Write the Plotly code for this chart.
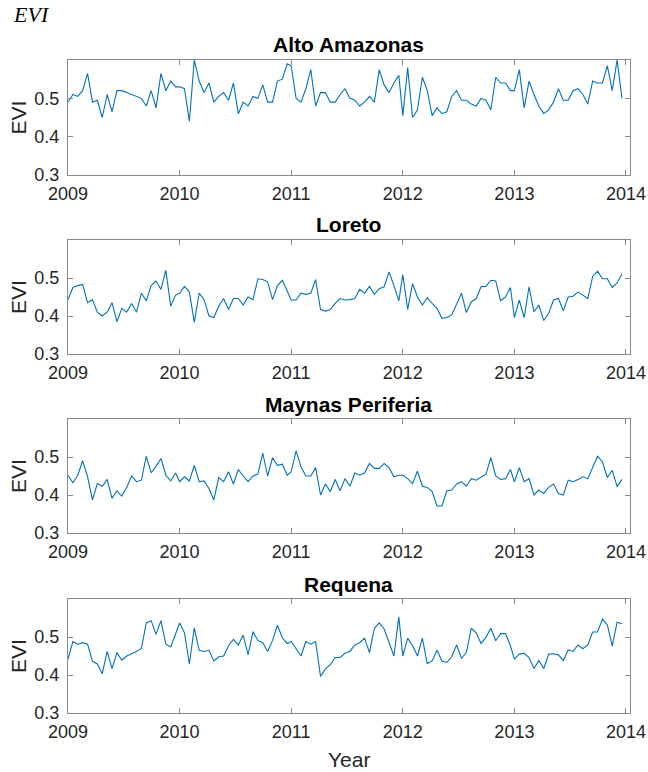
import numpy as np
import plotly.graph_objects as go

# 16-day composite dates (day of year 1, 17, ..., 353) for 2009-2013, as decimal years
years = [2009, 2010, 2011, 2012, 2013]
doys = list(range(1, 354, 16))
t = [y + (d - 1) / 365.0 for y in years for d in doys]

regions = ["Alto Amazonas", "Loreto", "Maynas Periferia", "Requena"]

evi_alto_amazonas = [
    # 2009
    0.49, 0.51, 0.505, 0.52, 0.565, 0.49, 0.495, 0.45, 0.51, 0.465, 0.52, 0.52,
    0.515, 0.51, 0.505, 0.50, 0.48, 0.52, 0.475, 0.565, 0.52, 0.545, 0.53,
    # 2010
    0.53, 0.525, 0.44, 0.60, 0.545, 0.515, 0.54, 0.49, 0.505, 0.515, 0.495, 0.54,
    0.46, 0.49, 0.48, 0.505, 0.50, 0.535, 0.49, 0.49, 0.545, 0.55, 0.59,
    # 2011
    0.585, 0.50, 0.49, 0.525, 0.575, 0.48, 0.515, 0.515, 0.49, 0.49, 0.51, 0.525,
    0.50, 0.495, 0.48, 0.49, 0.505, 0.49, 0.575, 0.535, 0.515, 0.54, 0.56,
    # 2012
    0.455, 0.58, 0.45, 0.47, 0.555, 0.52, 0.455, 0.475, 0.46, 0.465, 0.505, 0.52,
    0.495, 0.495, 0.485, 0.48, 0.50, 0.495, 0.47, 0.555, 0.54, 0.54, 0.52,
    # 2013
    0.52, 0.575, 0.475, 0.545, 0.51, 0.48, 0.46, 0.47, 0.49, 0.525, 0.495, 0.495,
    0.52, 0.525, 0.51, 0.485, 0.545, 0.54, 0.54, 0.585, 0.52, 0.60, 0.50,
]

evi_loreto = [
    # 2009
    0.443, 0.475, 0.48, 0.483, 0.435, 0.443, 0.41, 0.40, 0.41, 0.435, 0.385, 0.42,
    0.41, 0.433, 0.41, 0.46, 0.44, 0.48, 0.492, 0.47, 0.52, 0.426, 0.455,
    # 2010
    0.46, 0.478, 0.463, 0.383, 0.46, 0.443, 0.40, 0.396, 0.426, 0.446, 0.417, 0.446,
    0.446, 0.429, 0.45, 0.443, 0.498, 0.496, 0.49, 0.443, 0.48, 0.494, 0.463,
    # 2011
    0.442, 0.442, 0.46, 0.457, 0.46, 0.496, 0.417, 0.413, 0.417, 0.433, 0.446, 0.442,
    0.443, 0.446, 0.47, 0.46, 0.478, 0.457, 0.472, 0.477, 0.516, 0.48, 0.44,
    # 2012
    0.509, 0.417, 0.485, 0.45, 0.429, 0.448, 0.433, 0.42, 0.394, 0.396, 0.403, 0.433,
    0.46, 0.409, 0.437, 0.446, 0.477, 0.478, 0.494, 0.492, 0.44, 0.45, 0.475,
    # 2013
    0.396, 0.442, 0.396, 0.477, 0.411, 0.429, 0.388, 0.407, 0.442, 0.446, 0.414, 0.45,
    0.452, 0.463, 0.455, 0.446, 0.504, 0.518, 0.498, 0.498, 0.475, 0.487, 0.511,
]

evi_maynas_periferia = [
    # 2009
    0.452, 0.432, 0.452, 0.49, 0.448, 0.387, 0.43, 0.423, 0.441, 0.391, 0.411, 0.397,
    0.42, 0.45, 0.435, 0.439, 0.502, 0.458, 0.476, 0.496, 0.452, 0.437, 0.458,
    # 2010
    0.435, 0.448, 0.437, 0.478, 0.435, 0.437, 0.417, 0.387, 0.446, 0.435, 0.461, 0.429,
    0.467, 0.45, 0.435, 0.45, 0.455, 0.51, 0.45, 0.498, 0.478, 0.481, 0.452,
    # 2011
    0.461, 0.516, 0.474, 0.45, 0.45, 0.472, 0.40, 0.429, 0.409, 0.441, 0.411, 0.443,
    0.423, 0.458, 0.452, 0.458, 0.483, 0.47, 0.47, 0.483, 0.472, 0.448, 0.452,
    # 2012
    0.452, 0.443, 0.43, 0.463, 0.423, 0.42, 0.409, 0.371, 0.371, 0.411, 0.413, 0.429,
    0.435, 0.423, 0.443, 0.439, 0.448, 0.455, 0.498, 0.45, 0.441, 0.443, 0.467,
    # 2013
    0.435, 0.472, 0.435, 0.443, 0.40, 0.413, 0.404, 0.42, 0.429, 0.404, 0.40, 0.439,
    0.435, 0.441, 0.448, 0.443, 0.474, 0.502, 0.487, 0.446, 0.465, 0.422, 0.441,
]

evi_requena = [
    # 2009
    0.442, 0.488, 0.481, 0.485, 0.481, 0.436, 0.429, 0.403, 0.462, 0.417, 0.459, 0.439,
    0.45, 0.455, 0.462, 0.47, 0.537, 0.543, 0.507, 0.543, 0.481, 0.474, 0.511,
    # 2010
    0.537, 0.511, 0.429, 0.524, 0.465, 0.462, 0.465, 0.437, 0.448, 0.45, 0.477, 0.494,
    0.479, 0.505, 0.453, 0.514, 0.491, 0.485, 0.462, 0.491, 0.531, 0.498, 0.483,
    # 2011
    0.488, 0.47, 0.45, 0.488, 0.481, 0.488, 0.396, 0.416, 0.427, 0.446, 0.446, 0.457,
    0.462, 0.479, 0.485, 0.497, 0.459, 0.523, 0.537, 0.521, 0.483, 0.45, 0.553,
    # 2012
    0.45, 0.497, 0.477, 0.45, 0.497, 0.43, 0.437, 0.465, 0.437, 0.433, 0.448, 0.479,
    0.444, 0.459, 0.523, 0.511, 0.483, 0.499, 0.523, 0.49, 0.509, 0.509, 0.477,
    # 2013
    0.442, 0.455, 0.457, 0.446, 0.417, 0.438, 0.417, 0.455, 0.456, 0.453, 0.438, 0.466,
    0.462, 0.479, 0.469, 0.479, 0.513, 0.513, 0.547, 0.532, 0.476, 0.539, 0.535,
]

series = [evi_alto_amazonas, evi_loreto, evi_maynas_periferia, evi_requena]

x_ticks = [2009, 2010, 2011, 2012, 2013, 2014]
y_ticks = [0.3, 0.4, 0.5]
y_tick_text = ["0.3", "0.4", "0.5"]

W, H = 648, 772
# panel boxes in pixels: (top, bottom)
panel_px = [(60, 175), (240, 354), (419, 533), (599, 713)]
x_px = (68, 630)

line_color = "#0072BD"
axis_color = "#8a8a8a"
sans = "Liberation Sans, Arial, sans-serif"
tick_font = dict(family=sans, size=18, color="#262626")

fig = go.Figure()
layout = dict(
    width=W, height=H,
    margin=dict(l=0, r=0, t=0, b=0, autoexpand=False),
    paper_bgcolor="white", plot_bgcolor="white",
    showlegend=False,
    annotations=[],
)

for i, (name, vals) in enumerate(zip(regions, series)):
    n = i + 1
    xa = "x" if n == 1 else f"x{n}"
    ya = "y" if n == 1 else f"y{n}"
    fig.add_trace(go.Scatter(
        x=t, y=vals, mode="lines",
        line=dict(color=line_color, width=1.1),
        xaxis=xa, yaxis=ya, hoverinfo="skip",
    ))
    top, bot = panel_px[i]
    common = dict(
        showline=True, linecolor=axis_color, linewidth=1, mirror="ticks",
        ticks="inside", ticklen=5, tickcolor=axis_color, tickwidth=1,
        showgrid=False, zeroline=False, tickfont=tick_font, automargin=False,
    )
    layout["xaxis" if n == 1 else f"xaxis{n}"] = dict(
        domain=[x_px[0] / W, x_px[1] / W],
        range=[2009, 2014.036], tickmode="array",
        tickvals=x_ticks, ticktext=[str(v) for v in x_ticks],
        anchor=ya, ticklabelstandoff=2, **common,
    )
    layout["yaxis" if n == 1 else f"yaxis{n}"] = dict(
        domain=[1 - bot / H, 1 - top / H],
        range=[0.3, 0.6], tickmode="array",
        tickvals=y_ticks, ticktext=y_tick_text,
        anchor=xa, ticklabelstandoff=4, **common,
    )
    # panel title
    layout["annotations"].append(dict(
        text=f"<b>{name}</b>", xref="paper", yref="paper",
        x=(x_px[0] + x_px[1]) / 2 / W, y=1 - (top - 15) / H,
        xanchor="center", yanchor="middle", showarrow=False,
        font=dict(family=sans, size=21, color="black"),
    ))
    # y-axis label
    layout["annotations"].append(dict(
        text="EVI", xref="paper", yref="paper",
        x=18 / W, y=1 - (top + bot) / 2 / H,
        xanchor="center", yanchor="middle", textangle=-90, showarrow=False,
        font=dict(family=sans, size=21, color="#262626"),
    ))

layout["annotations"].append(dict(
    text="Year", xref="paper", yref="paper",
    x=(x_px[0] + x_px[1]) / 2 / W, y=1 - 759 / H,
    xanchor="center", yanchor="middle", showarrow=False,
    font=dict(family=sans, size=21, color="#262626"),
))
layout["annotations"].append(dict(
    text="<i>EVI</i>", xref="paper", yref="paper",
    x=11 / W, y=1 - 15 / H,
    xanchor="left", yanchor="middle", showarrow=False,
    font=dict(family="Liberation Serif, serif", size=22, color="black"),
))

fig.update_layout(**layout)
fig.write_html("out.html")
